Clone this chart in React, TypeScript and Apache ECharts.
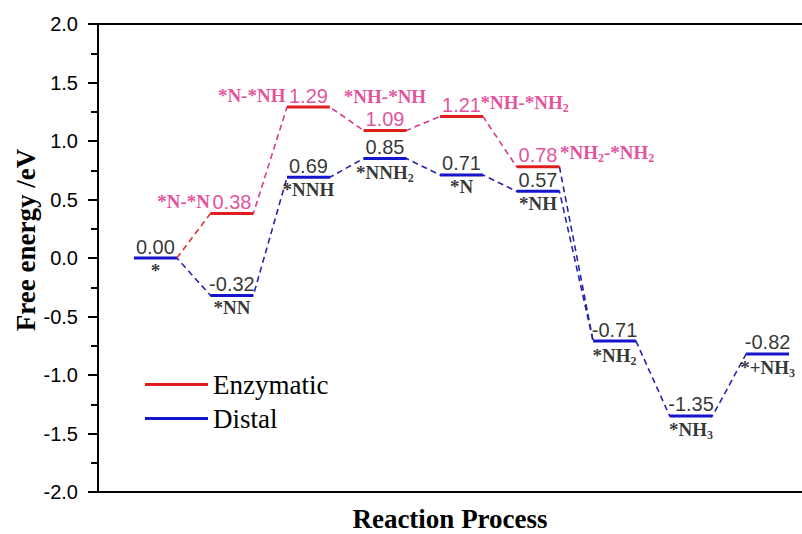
import React, { useEffect, useRef } from "react";
import * as echarts from "echarts";

// ---- data ----
const stepPositions = [1, 2, 3, 4, 5, 6, 7, 8, 9];
const distalNames = ["*", "*NN", "*NNH", "*NNH{s|2}", "*N", "*NH", "*NH{s|2}", "*NH{s|3}", "*+NH{s|3}"];
const distalValues = [0.0, -0.32, 0.69, 0.85, 0.71, 0.57, -0.71, -1.35, -0.82];

const enzymaticPositions = [2, 3, 4, 5, 6];
const enzymaticNames = ["*N-*N", "*N-*NH", "*NH-*NH", "*NH-*NH{s|2}", "*NH{s|2}-*NH{s|2}"];
const enzymaticValues = [0.38, 1.29, 1.09, 1.21, 0.78];
// enzymatic path branches off distal step index 0 and rejoins distal step index 6
const enzymaticStartIdx = 0;
const enzymaticEndIdx = 6;

const yTicks = { min: -2, max: 2, interval: 0.5 };

// ---- styles ----
const HALF = 0.28;
const BLUE = "#1515cc";
const BLUE_DASH = "#2626a8";
const RED = "#e01e1e";
const RED_DASH = "#d83434";
const PINK = "#dc2484";
const PINK_DASH = "#d43c92";
const SERIF = "'Liberation Serif', 'Times New Roman', serif";
const SANS = "'Liberation Sans', Arial, sans-serif";

const enzymaticNamePlacement = [
  { align: "right", offset: [-22, 0] },
  { align: "right", offset: [-23, 0] },
  { align: "center", offset: [0, -22] },
  { align: "left", offset: [19, 0] },
  { align: "left", offset: [22, 0] },
];

const richSub = (color: string) => ({
  s: { fontSize: 12, fontFamily: SERIF, fontWeight: "bold", color, padding: [11, 0, 0, 0] },
});

function levelSeries(name: string, positions: number[], values: number[], color: string) {
  return positions.map((p, i) => ({
    type: "line",
    name,
    symbol: "none",
    silent: true,
    z: 5,
    itemStyle: { color },
    lineStyle: { color, width: 3 },
    data: [
      [p - HALF, values[i]],
      [p + HALF, values[i]],
    ],
  }));
}

function pathPoints(positions: number[], values: number[]) {
  const pts: number[][] = [];
  positions.forEach((p, i) => {
    pts.push([p - HALF, values[i]]);
    pts.push([p + HALF, values[i]]);
  });
  return pts;
}

function dashed(name: string, data: number[][], color: string) {
  return {
    type: "line",
    name,
    symbol: "none",
    silent: true,
    z: 3,
    itemStyle: { color },
    lineStyle: { color, width: 1.6, type: [6, 4] },
    data,
  };
}

export default function App() {
  const ref = useRef<HTMLDivElement>(null);

  useEffect(() => {
    if (!ref.current) return;
    const chart = echarts.init(ref.current, undefined, { renderer: "svg" });

    const sP = stepPositions[enzymaticStartIdx];
    const sV = distalValues[enzymaticStartIdx];
    const eP = stepPositions[enzymaticEndIdx];
    const eV = distalValues[enzymaticEndIdx];
    const firstEP = enzymaticPositions[0];
    const firstEV = enzymaticValues[0];
    const lastEP = enzymaticPositions[enzymaticPositions.length - 1];
    const lastEV = enzymaticValues[enzymaticValues.length - 1];

    const labelBase = {
      type: "scatter",
      symbolSize: 1,
      itemStyle: { color: "transparent" },
      silent: true,
      z: 10,
    };

    const series: any[] = [
      ...levelSeries("Enzymatic", enzymaticPositions, enzymaticValues, RED),
      ...levelSeries("Distal", stepPositions, distalValues, BLUE),
      dashed("distalPath", pathPoints(stepPositions, distalValues), BLUE_DASH),
      dashed("enzStart", [[sP + HALF, sV], [firstEP - HALF, firstEV]], RED_DASH),
      dashed("enzPath", pathPoints(enzymaticPositions, enzymaticValues), PINK_DASH),
      dashed("enzEnd", [[lastEP + HALF, lastEV], [eP - HALF, eV]], BLUE_DASH),
      {
        ...labelBase,
        name: "distalValueLabels",
        label: {
          show: true,
          position: "top",
          distance: 1,
          color: "#000",
          fontFamily: SANS,
          fontSize: 20,
          formatter: (p: any) => p.value[1].toFixed(2),
        },
        data: stepPositions.map((p, i) => [p, distalValues[i]]),
      },
      {
        ...labelBase,
        name: "distalNameLabels",
        label: {
          show: true,
          position: "bottom",
          distance: 2,
          color: "#000",
          fontFamily: SERIF,
          fontWeight: "bold",
          fontSize: 19,
          formatter: (p: any) => distalNames[p.dataIndex],
          rich: richSub("#000"),
        },
        data: stepPositions.map((p, i) => [p, distalValues[i]]),
      },
      {
        ...labelBase,
        name: "enzValueLabels",
        label: {
          show: true,
          position: "top",
          distance: 1,
          color: PINK,
          fontFamily: SANS,
          fontSize: 20,
          formatter: (p: any) => p.value[1].toFixed(2),
        },
        data: enzymaticPositions.map((p, i) => [p, enzymaticValues[i]]),
      },
      {
        ...labelBase,
        name: "enzNameLabels",
        label: {
          show: true,
          position: "top",
          distance: 2,
          color: PINK,
          fontFamily: SERIF,
          fontWeight: "bold",
          fontSize: 19,
          formatter: (p: any) => enzymaticNames[p.dataIndex],
          rich: richSub(PINK),
        },
        data: enzymaticPositions.map((p, i) => ({
          value: [p, enzymaticValues[i]],
          label: enzymaticNamePlacement[i],
        })),
      },
    ];

    chart.setOption({
      animation: false,
      backgroundColor: "#fff",
      grid: {
        left: 98,
        top: 24,
        width: 727,
        height: 468,
        outerBoundsMode: "none",
        containLabel: false,
        show: true,
        borderColor: "#000",
        borderWidth: 2,
        backgroundColor: "transparent",
      },
      legend: {
        orient: "vertical",
        left: 140,
        top: 366,
        itemWidth: 63,
        itemHeight: 3,
        itemGap: 7,
        selectedMode: false,
        textStyle: { fontFamily: SERIF, fontSize: 27, color: "#000" },
        data: [
          { name: "Enzymatic", icon: "rect", itemStyle: { color: RED } },
          { name: "Distal", icon: "rect", itemStyle: { color: BLUE } },
        ],
      },
      xAxis: {
        type: "value",
        min: 0.25,
        max: 9.75,
        position: "bottom",
        axisLine: { show: true, onZero: false, lineStyle: { color: "#000", width: 2 } },
        axisTick: { show: false },
        axisLabel: { show: false },
        splitLine: { show: false },
      },
      yAxis: {
        type: "value",
        min: yTicks.min,
        max: yTicks.max,
        interval: yTicks.interval,
        axisLine: { show: true, onZero: false, lineStyle: { color: "#000", width: 2 } },
        axisTick: { show: true, inside: false, length: 10, lineStyle: { color: "#000", width: 2 } },
        minorTick: { show: true, splitNumber: 2, length: 7, lineStyle: { color: "#000", width: 2 } },
        axisLabel: {
          margin: 20,
          fontFamily: SANS,
          fontSize: 20,
          color: "#000",
          formatter: (v: number) => v.toFixed(1),
        },
        splitLine: { show: false },
      },
      graphic: [
        {
          type: "text",
          x: 450,
          y: 519,
          style: {
            text: "Reaction Process",
            fontFamily: SERIF,
            fontWeight: "bold",
            fontSize: 27,
            fill: "#000",
            textAlign: "center",
            textVerticalAlign: "middle",
          },
        },
        {
          type: "text",
          x: 26,
          y: 240,
          rotation: Math.PI / 2,
          style: {
            text: "Free energy /eV",
            fontFamily: SERIF,
            fontWeight: "bold",
            fontSize: 27,
            fill: "#000",
            textAlign: "center",
            textVerticalAlign: "middle",
          },
        },
      ],
      series,
    });

    return () => chart.dispose();
  }, []);

  return (
    <div
      ref={ref}
      style={{ position: "fixed", left: 0, top: 0, width: 802, height: 534, background: "#fff" }}
    />
  );
}
